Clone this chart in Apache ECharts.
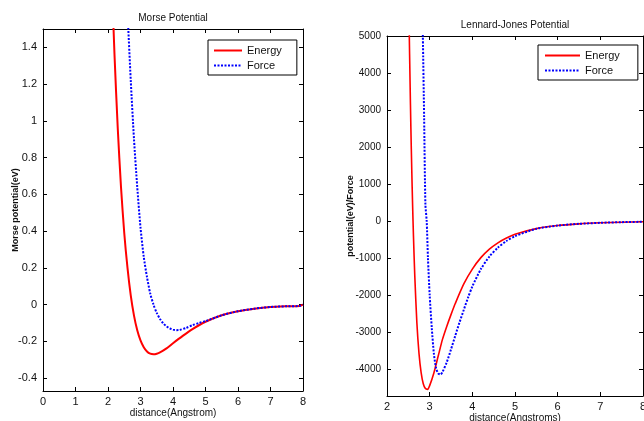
<!DOCTYPE html>
<html>
<head>
<meta charset="utf-8">
<script src="https://cdn.jsdelivr.net/npm/echarts@6/dist/echarts.min.js"></script>
<style>
html,body{margin:0;padding:0;background:#fff;}
#c{width:644px;height:421px;}
</style>
</head>
<body>
<div id="c"></div>
<script>
// Morse potential panel
const morseEnergyX = [2.1,2.2,2.3,2.4,2.5,2.6,2.7,2.8,2.9,3.0,3.1,3.2,3.3,3.4,3.5,3.6,3.8,4.0,4.3,4.6,5.0,5.5,6.0,6.5,7.0,7.5,7.9,8.0];
const morseEnergyY = [1.85,1.36,0.96,0.64,0.39,0.2,0.05,-0.06,-0.14,-0.195,-0.232,-0.255,-0.267,-0.27,-0.267,-0.26,-0.238,-0.21,-0.17,-0.133,-0.093,-0.058,-0.036,-0.022,-0.013,-0.009,-0.007,0.0];
const morseForceX = [2.55,2.6,2.7,2.8,2.9,3.0,3.1,3.2,3.3,3.4,3.5,3.6,3.7,3.8,3.9,4.0,4.1,4.2,4.4,4.6,4.8,5.0,5.5,6.0,6.5,7.0,7.5,7.9,8.0];
const morseForceY = [1.85,1.6,1.22,0.9,0.64,0.42,0.26,0.15,0.06,0.0,-0.045,-0.078,-0.102,-0.118,-0.129,-0.136,-0.139,-0.138,-0.127,-0.112,-0.1,-0.09,-0.058,-0.036,-0.022,-0.013,-0.009,-0.007,0.0];
const morseXTicks = [0,1,2,3,4,5,6,7,8];
const morseYTicks = [-0.4,-0.2,0,0.2,0.4,0.6,0.8,1,1.2,1.4];

// Lennard-Jones panel
const ljEnergyX = [2.48,2.52,2.54,2.56,2.58,2.6,2.62,2.65,2.7,2.75,2.8,2.85,2.9,2.95,3.0,3.1,3.2,3.3,3.4,3.5,3.6,3.8,4.0,4.2,4.4,4.6,4.8,5.0,5.5,6.0,6.5,7.0,7.5,8.0];
const ljEnergyY = [8800,5200,3800,2500,1400,430,-400,-1450,-2750,-3580,-4100,-4400,-4530,-4550,-4450,-4100,-3650,-3200,-2850,-2530,-2230,-1700,-1300,-990,-760,-590,-460,-360,-206,-123,-77,-49,-32,-21];
const ljForceX = [2.8,2.84,2.87,2.9,2.93,2.96,3.0,3.05,3.1,3.15,3.2,3.25,3.3,3.4,3.5,3.6,3.7,3.8,3.9,4.0,4.2,4.4,4.6,4.8,5.0,5.5,6.0,6.5,7.0,7.5,8.0];
const ljForceY = [7500,5000,2800,450,0,-1000,-2000,-2900,-3600,-3980,-4120,-4150,-4080,-3820,-3470,-3100,-2740,-2400,-2070,-1770,-1300,-960,-720,-540,-410,-210,-123,-77,-49,-32,-21];
const ljXTicks = [2,3,4,5,6,7,8];
const ljYTicks = [-4000,-3000,-2000,-1000,0,1000,2000,3000,4000,5000];

const seriesNames = ['Energy','Force'];
const titles = ['Morse Potential','Lennard-Jones Potential'];
const xNames = ['distance(Angstrom)','distance(Angstroms)'];
const yNames = ['Morse potential(eV)','potential(eV)/Force'];

const zip = (xs, ys) => xs.map((x, i) => [x, ys[i]]);
const FONT = "'Liberation Sans Narrow','Liberation Sans',Arial,sans-serif";
const fmt = v => String(Math.round(v * 1000) / 1000);

function xAxes(gi, min, max, ticks) {
  return [
    { gridIndex: gi, type: 'value', position: 'bottom', min, max, interval: 1,
      name: xNames[gi], nameLocation: 'middle', nameGap: 17, nameMoveOverlap: false,
      nameTextStyle: { fontFamily: FONT, fontSize: 10, color: '#111' },
      axisLine: { show: true, onZero: false, lineStyle: { color: '#000', width: 1 } },
      axisTick: { show: true, inside: true, length: 4, lineStyle: { color: '#000' }, customValues: ticks },
      axisLabel: { show: true, margin: 5, fontFamily: FONT, fontSize: 11, color: '#111', customValues: ticks, formatter: fmt },
      splitLine: { show: false } },
    { gridIndex: gi, type: 'value', position: 'top', min, max, interval: 1,
      axisLine: { show: true, onZero: false, lineStyle: { color: '#000', width: 1 } },
      axisTick: { show: true, inside: true, length: 4, lineStyle: { color: '#000' }, customValues: ticks },
      axisLabel: { show: false }, splitLine: { show: false } }
  ];
}
function yAxes(gi, min, max, ticks, gap, labelSize) {
  return [
    { gridIndex: gi, type: 'value', position: 'left', min, max,
      name: yNames[gi], nameLocation: 'middle', nameGap: gap, nameRotate: 90, nameMoveOverlap: false,
      nameTextStyle: { fontFamily: FONT, fontSize: 9, fontWeight: 'bold', color: '#111' },
      axisLine: { show: true, onZero: false, lineStyle: { color: '#000', width: 1 } },
      axisTick: { show: true, inside: true, length: 4, lineStyle: { color: '#000' }, customValues: ticks },
      axisLabel: { show: true, margin: 6, fontFamily: FONT, fontSize: labelSize, color: '#111', customValues: ticks, formatter: fmt },
      splitLine: { show: false } },
    { gridIndex: gi, type: 'value', position: 'right', min, max,
      axisLine: { show: true, onZero: false, lineStyle: { color: '#000', width: 1 } },
      axisTick: { show: true, inside: true, length: 4, lineStyle: { color: '#000' }, customValues: ticks },
      axisLabel: { show: false }, splitLine: { show: false } }
  ];
}

const legendCommon = {
  orient: 'vertical', backgroundColor: '#fff', borderColor: '#000', borderWidth: 1,
  borderRadius: 0, itemGap: 4, itemHeight: 10,
  itemStyle: { color: 'rgba(0,0,0,0)', borderWidth: 0, opacity: 0 },
  textStyle: { fontFamily: FONT, fontSize: 11, color: '#111' },
  data: seriesNames
};

const lineStyles = {
  Energy: { color: '#ff0000', width: 2, type: 'solid' },
  Force: { color: '#0000ff', width: 2, type: [2, 1.5] }
};
function mk(name, data, xi, yi, w) {
  return { name, type: 'line', data, xAxisIndex: xi, yAxisIndex: yi, symbol: 'none',
    smooth: 0.25, clip: true, color: lineStyles[name].color,
    lineStyle: Object.assign({}, lineStyles[name], { width: w }), animation: false };
}

const chart = echarts.init(document.getElementById('c'), null, { renderer: 'canvas' });
chart.setOption({
  backgroundColor: '#fff',
  animation: false,
  title: [
    { text: titles[0], left: 173, top: 13, textAlign: 'center', padding: 0,
      textStyle: { fontFamily: FONT, fontSize: 10, fontWeight: 'normal', color: '#111' } },
    { text: titles[1], left: 515, top: 20, textAlign: 'center', padding: 0,
      textStyle: { fontFamily: FONT, fontSize: 10, fontWeight: 'normal', color: '#111' } }
  ],
  legend: [
    Object.assign({}, legendCommon, { left: 208, top: 40, itemWidth: 28, padding: [5, 15, 4, 5] }),
    Object.assign({}, legendCommon, { left: 538, top: 45, itemWidth: 35, padding: [5, 18, 4, 6] })
  ],
  grid: [
    { left: 43, top: 29, width: 260, height: 362, containLabel: false, outerBoundsMode: 'none' },
    { left: 387, top: 36, width: 256, height: 360, containLabel: false, outerBoundsMode: 'none' }
  ],
  xAxis: [].concat(xAxes(0, 0, 8, morseXTicks), xAxes(1, 2, 8, ljXTicks)),
  yAxis: [].concat(yAxes(0, -0.47, 1.5, morseYTicks, 23, 11), yAxes(1, -4730, 5000, ljYTicks, 32, 10)),
  series: [
    mk('Energy', zip(morseEnergyX, morseEnergyY), 0, 0, 2),
    mk('Force', zip(morseForceX, morseForceY), 0, 0, 2),
    mk('Energy', zip(ljEnergyX, ljEnergyY), 2, 2, 1.6),
    mk('Force', zip(ljForceX, ljForceY), 2, 2, 2)
  ]
});
</script>
</body>
</html>
